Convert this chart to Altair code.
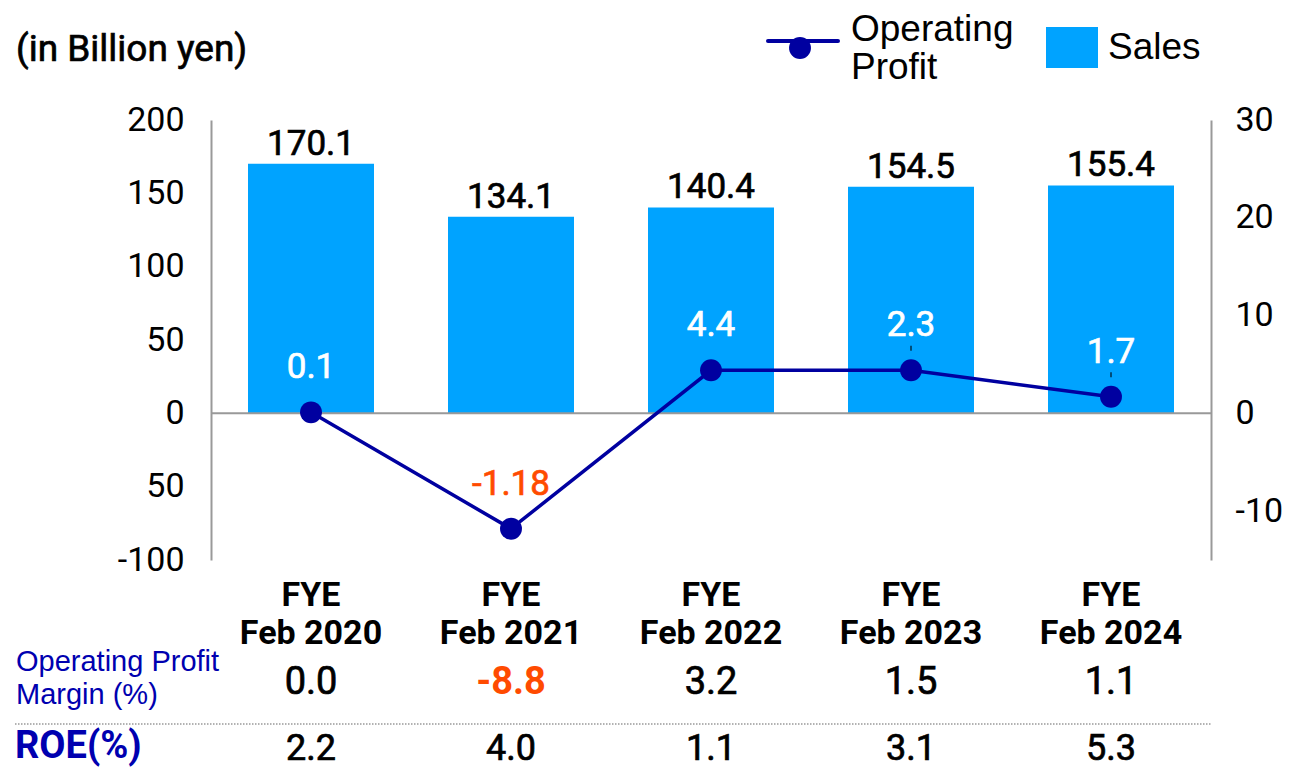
import altair as alt
import pandas as pd

# ---- data ----
categories = ["FYE Feb 2020", "FYE Feb 2021", "FYE Feb 2022", "FYE Feb 2023", "FYE Feb 2024"]
sales = [170.1, 134.1, 140.4, 154.5, 155.4]
op_profit = [0.1, -11.8, 4.4, 4.4, 1.7]          # plotted positions (right axis)
op_profit_text = ["0.1", "-1.18", "4.4", "2.3", "1.7"]
op_profit_text_color = ["white", "#FF4B00", "white", "white", "white"]
op_leader = [False, False, False, True, True]
margin_text = ["0.0", "-8.8", "3.2", "1.5", "1.1"]
margin_color = ["black", "#FF4B00", "black", "black", "black"]
margin_weight_bold = [False, True, False, False, False]
roe_text = ["2.2", "4.0", "1.1", "3.1", "5.3"]

df = pd.DataFrame({
    "cat": categories,
    "sales": sales,
    "op": op_profit,
    "op_txt": op_profit_text,
    "op_col": op_profit_text_color,
    "leader": op_leader,
    "margin": margin_text,
    "mcol": margin_color,
    "mbold": margin_weight_bold,
    "roe": roe_text,
})

FONT = "Roboto"
ARIAL = "Liberation Sans"
BAR = "#00A3FF"
NAVY = "#0000A0"
BLUE_TXT = "#0000B0"
W, H = 1000, 440
MED = 0.7  # faux medium weight stroke

xenc = alt.X(
    "cat:N", sort=categories, title=None,
    scale=alt.Scale(paddingInner=0.37, paddingOuter=0.185),
    axis=alt.Axis(
        domain=False, ticks=False, labelAngle=0,
        labelExpr="['FYE', substring(datum.label, 4)]",
        labelFont=FONT, labelFontSize=34, labelFontWeight="bold",
        labelColor="black", labelLineHeight=38, labelPadding=18,
    ),
)

base = alt.Chart(df)

bars = base.mark_bar(color=BAR).encode(
    x=xenc,
    y=alt.Y("sales:Q", title=None,
            scale=alt.Scale(domain=[-100, 200], nice=False),
            axis=alt.Axis(values=[-100, -50, 0, 50, 100, 150, 200],
                          labelExpr="datum.value == -50 ? '50' : '' + datum.value",
                          grid=False, ticks=False, domainColor="#999999", domainWidth=2,
                          labelFont=FONT, labelFontSize=34,
                          labelColor="black", labelPadding=27)),
)

bar_text = base.mark_text(font=FONT, fontSize=35, baseline="bottom",
                          dy=-2, color="black", stroke="black", strokeWidth=MED).encode(
    x=alt.X("cat:N", sort=categories),
    y=alt.Y("sales:Q"),
    text=alt.Text("sales:Q", format=".1f"),
)

zero = alt.Chart(pd.DataFrame({"z": [0]})).mark_rule(color="#999999", strokeWidth=2).encode(
    y=alt.Y("z:Q"),
)

# table rows below the chart
margin_row = base.transform_filter("!datum.mbold").mark_text(
    font=FONT, fontSize=38, baseline="middle", strokeWidth=MED).encode(
    x=alt.X("cat:N", sort=categories),
    y=alt.value(563),
    text="margin:N",
    color=alt.Color("mcol:N", scale=None),
    stroke=alt.Stroke("mcol:N", scale=None),
)
margin_row_b = base.transform_filter("datum.mbold").mark_text(
    font=FONT, fontSize=38, fontWeight="bold", baseline="middle").encode(
    x=alt.X("cat:N", sort=categories),
    y=alt.value(563),
    text="margin:N",
    color=alt.Color("mcol:N", scale=None),
)
roe_row = base.mark_text(font=FONT, fontSize=36, baseline="middle",
                         color="black", stroke="black", strokeWidth=MED).encode(
    x=alt.X("cat:N", sort=categories),
    y=alt.value(629),
    text="roe:N",
)

row_labels = alt.Chart(pd.DataFrame({
    "t": [["Operating Profit", "Margin (%)"]],
})).mark_text(font=ARIAL, fontSize=29, align="left", baseline="middle",
              lineHeight=33, color=BLUE_TXT).encode(
    x=alt.value(-195), y=alt.value(542), text="t",
)
roe_label = alt.Chart(pd.DataFrame({"t": ["ROE(%)"]})).mark_text(
    font=FONT, fontSize=38, fontWeight="bold", align="left", baseline="middle", color=BLUE_TXT
).encode(x=alt.value(-196), y=alt.value(627), text="t:N")

sep = alt.Chart(pd.DataFrame({"a": [0]})).mark_rule(
    color="#999999", strokeWidth=1.5, strokeDash=[1.5, 1.5]
).encode(x=alt.value(-196), x2=alt.value(1000), y=alt.value(604))

title = alt.Chart(pd.DataFrame({"t": ["(in Billion yen)"]})).mark_text(
    font=FONT, fontSize=37, align="left", baseline="middle", color="black",
    stroke="black", strokeWidth=MED
).encode(x=alt.value(-195), y=alt.value(-70), text="t:N")

# manual legend
leg_line = alt.Chart(pd.DataFrame({"a": [0]})).mark_rule(color=NAVY, strokeWidth=4, strokeCap="round").encode(
    x=alt.value(557), x2=alt.value(627), y=alt.value(-79))
leg_pt = alt.Chart(pd.DataFrame({"a": [0]})).mark_point(
    filled=True, color=NAVY, size=480, opacity=1, shape="circle").encode(
    x=alt.value(589), y=alt.value(-72))
leg_txt1 = alt.Chart(pd.DataFrame({"t": [["Operating", "Profit"]]})).mark_text(
    font=ARIAL, fontSize=37, align="left", baseline="middle", lineHeight=38, color="black"
).encode(x=alt.value(640), y=alt.value(-90), text="t")
leg_sq = alt.Chart(pd.DataFrame({"a": [0]})).mark_rect(color=BAR).encode(
    x=alt.value(835), x2=alt.value(887), y=alt.value(-93), y2=alt.value(-52))
leg_txt2 = alt.Chart(pd.DataFrame({"t": ["Sales"]})).mark_text(
    font=ARIAL, fontSize=37, align="left", baseline="middle", color="black"
).encode(x=alt.value(897), y=alt.value(-72), text="t:N")

left_layer = alt.layer(
    bars, zero, bar_text, margin_row, margin_row_b, roe_row, row_labels, roe_label, sep, title,
    leg_sq, leg_txt2,
)

yr = alt.Y("op:Q", title=None,
           scale=alt.Scale(domain=[-15, 30], nice=False),
           axis=alt.Axis(orient="right", values=[-10, 0, 10, 20, 30],
                         labelExpr="'' + datum.value",
                         grid=False, ticks=False, domainColor="#999999", domainWidth=2,
                         labelFont=FONT, labelFontSize=34,
                         labelColor="black", labelPadding=24))

line = base.mark_line(color=NAVY, strokeWidth=3.5).encode(
    x=alt.X("cat:N", sort=categories), y=yr)
pts = base.mark_point(filled=True, color=NAVY, size=480, opacity=1).encode(
    x=alt.X("cat:N", sort=categories), y=alt.Y("op:Q"))
op_lbl = base.mark_text(font=FONT, fontSize=35, baseline="bottom", dy=-27,
                        strokeWidth=MED).encode(
    x=alt.X("cat:N", sort=categories), y=alt.Y("op:Q"),
    text="op_txt:N", color=alt.Color("op_col:N", scale=None),
    stroke=alt.Stroke("op_col:N", scale=None))
leader = base.transform_filter("datum.leader").mark_tick(
    orient="vertical", color="black", size=5, thickness=1.5).encode(
    x=alt.X("cat:N", sort=categories), y=alt.Y("op:Q"), yOffset=alt.value(-22))

right_layer = alt.layer(line, pts, op_lbl, leader, leg_line, leg_pt, leg_txt1)

chart = alt.layer(left_layer, right_layer).resolve_scale(y="independent").properties(
    width=W, height=H,
    autosize=alt.AutoSizeParams(type="none"),
    padding={"left": 203, "top": 112, "right": 72, "bottom": 210},
).configure_view(stroke=None)

chart.save("out.html", embed_options={"renderer": "svg", "actions": False})
